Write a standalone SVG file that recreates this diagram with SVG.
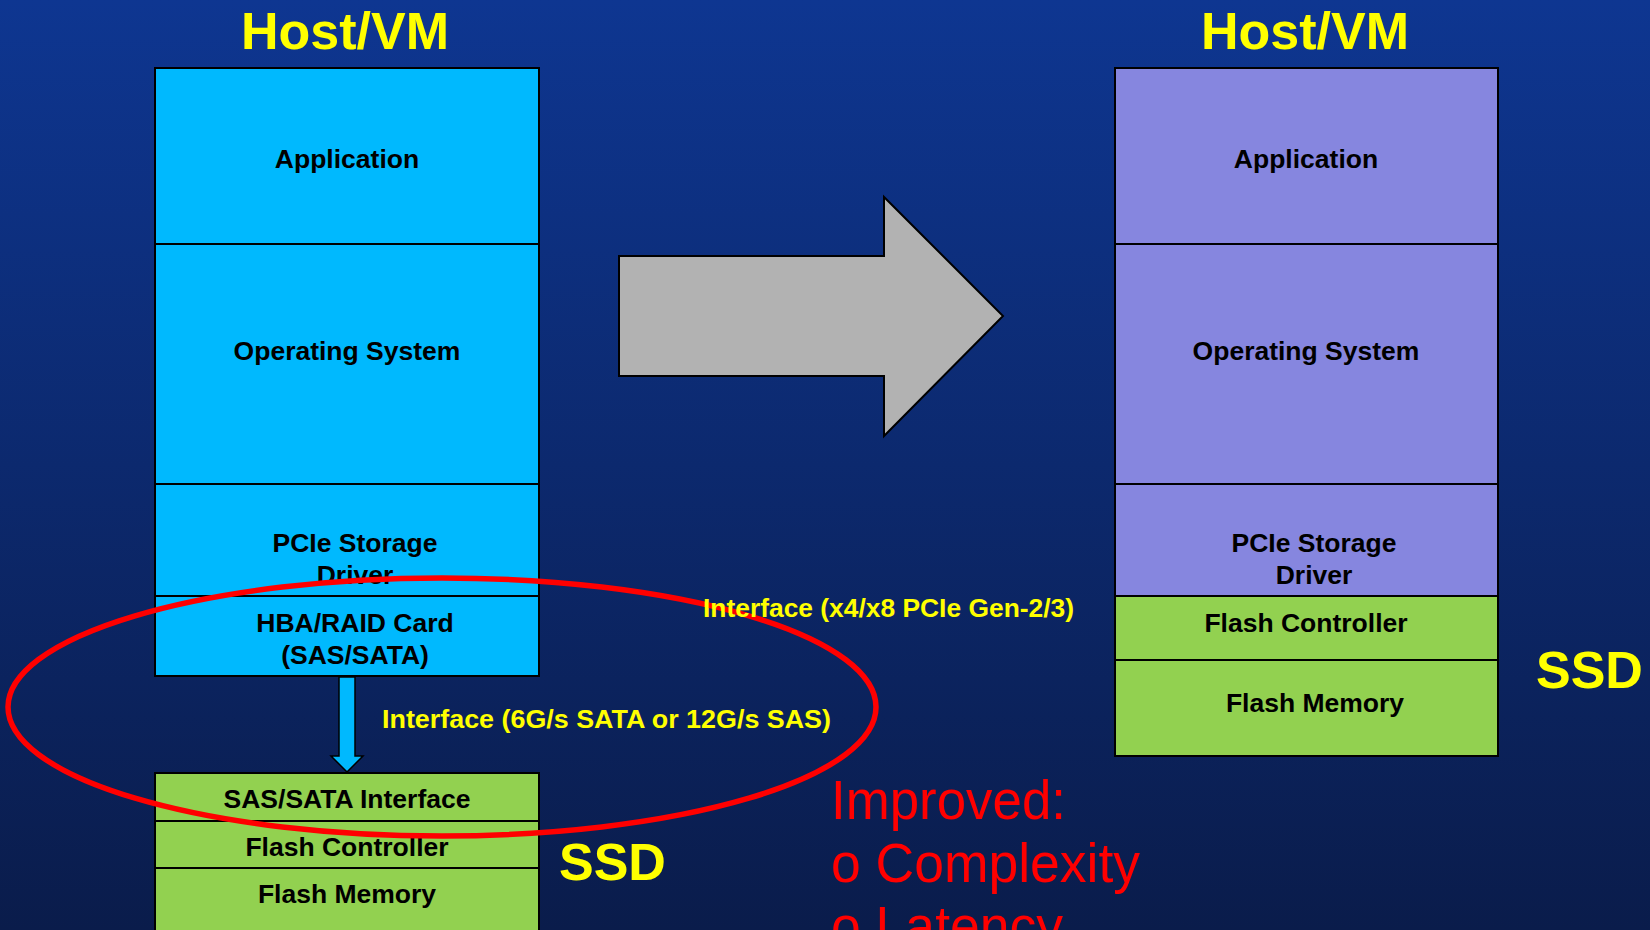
<svg xmlns="http://www.w3.org/2000/svg" width="1650" height="930" viewBox="0 0 1650 930">
<defs>
<linearGradient id="bg" x1="0" y1="0" x2="0" y2="1">
<stop offset="0" stop-color="#0E3691"/>
<stop offset="1" stop-color="#0A1C4B"/>
</linearGradient>
<style>
.lbl{font-family:"Liberation Sans",Arial,sans-serif;font-weight:bold;font-size:26.5px;fill:#000;text-anchor:middle}
.ttl{font-family:"Liberation Sans",Arial,sans-serif;font-weight:bold;font-size:52px;fill:#FFFF00}
.ifc{font-family:"Liberation Sans",Arial,sans-serif;font-weight:bold;font-size:26.5px;fill:#FFFF00}
.red{font-family:"Liberation Sans",Arial,sans-serif;font-size:56px;fill:#FF0000}
.blue{fill:#00B9FE;stroke:#000;stroke-width:2}
.purp{fill:#8686DF;stroke:#000;stroke-width:2}
.grn{fill:#92D150;stroke:#000;stroke-width:2}
</style>
</defs>
<rect x="0" y="0" width="1650" height="930" fill="url(#bg)"/>

<text class="ttl" x="345" y="49" text-anchor="middle">Host/VM</text>
<text class="ttl" x="1305" y="49" text-anchor="middle">Host/VM</text>

<g id="left-app"><rect class="blue" x="155" y="68" width="384" height="176"/><text class="lbl" x="347" y="168">Application</text></g>
<g id="left-os"><rect class="blue" x="155" y="244" width="384" height="240"/><text class="lbl" x="347" y="360">Operating System</text></g>
<g id="left-driver"><rect class="blue" x="155" y="484" width="384" height="112"/><text class="lbl" x="355" y="552">PCIe Storage</text><text class="lbl" x="355" y="584">Driver</text></g>
<g id="left-hba"><rect class="blue" x="155" y="596" width="384" height="80"/><text class="lbl" x="355" y="632">HBA/RAID Card</text><text class="lbl" x="355" y="664">(SAS/SATA)</text></g>

<g id="left-sasif"><rect class="grn" x="155" y="773" width="384" height="48"/><text class="lbl" x="347" y="808">SAS/SATA Interface</text></g>
<g id="left-fc"><rect class="grn" x="155" y="821" width="384" height="47"/><text class="lbl" x="347" y="856">Flash Controller</text></g>
<g id="left-fm"><rect class="grn" x="155" y="868" width="384" height="70"/><text class="lbl" x="347" y="903">Flash Memory</text></g>

<g id="right-app"><rect class="purp" x="1115" y="68" width="383" height="176"/><text class="lbl" x="1306" y="168">Application</text></g>
<g id="right-os"><rect class="purp" x="1115" y="244" width="383" height="240"/><text class="lbl" x="1306" y="360">Operating System</text></g>
<g id="right-driver"><rect class="purp" x="1115" y="484" width="383" height="112"/><text class="lbl" x="1314" y="552">PCIe Storage</text><text class="lbl" x="1314" y="584">Driver</text></g>
<g id="right-fc"><rect class="grn" x="1115" y="596" width="383" height="64"/><text class="lbl" x="1306" y="632">Flash Controller</text></g>
<g id="right-fm"><rect class="grn" x="1115" y="660" width="383" height="96"/><text class="lbl" x="1315" y="712">Flash Memory</text></g>

<g id="big-arrow"><polygon points="619,256 884,256 884,197 1003,316 884,436 884,376 619,376" fill="#B2B2B2" stroke="#000" stroke-width="2"/></g>

<g id="connectors">
<polygon points="339,677 355,677 355,756 363,756 347,772 331,756 339,756" fill="#00B9FE" stroke="#000" stroke-width="1.5"/>
</g>

<text class="ttl" x="559" y="880">SSD</text>
<text class="ttl" x="1536" y="688">SSD</text>

<g id="highlight"><ellipse cx="442" cy="707" rx="434" ry="129" fill="none" stroke="#FF0000" stroke-width="5.5"/></g>

<text class="ifc" x="382" y="728" textLength="449" lengthAdjust="spacingAndGlyphs">Interface (6G/s SATA or 12G/s SAS)</text>
<text class="ifc" x="703" y="617" textLength="371" lengthAdjust="spacingAndGlyphs">Interface (x4/x8 PCIe Gen-2/3)</text>

<text class="red" x="831" y="819" textLength="235" lengthAdjust="spacingAndGlyphs">Improved:</text>
<text class="red" x="831" y="882" textLength="309" lengthAdjust="spacingAndGlyphs">o Complexity</text>
<text class="red" x="831" y="945" textLength="232" lengthAdjust="spacingAndGlyphs">o Latency</text>
</svg>
